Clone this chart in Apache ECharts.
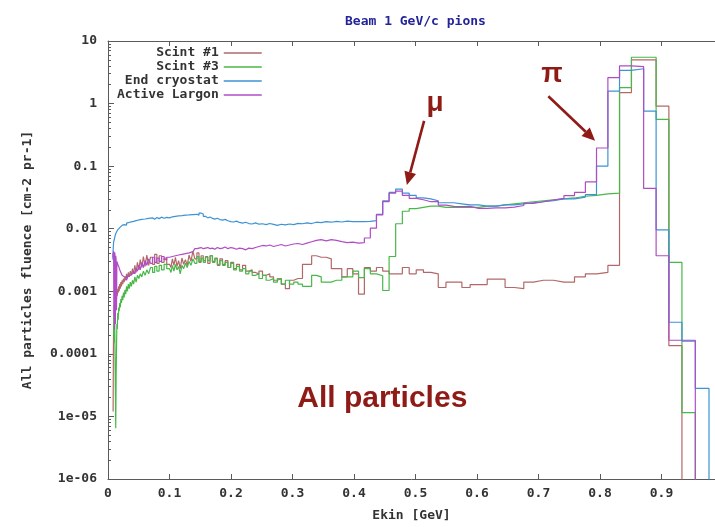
<!DOCTYPE html>
<html>
<head>
<meta charset="utf-8">
<title>Beam 1 GeV/c pions</title>
<script src="https://cdn.jsdelivr.net/npm/echarts@6/dist/echarts.min.js"></script>
<style>
  html, body { margin: 0; padding: 0; background: #fff; }
  #chart { width: 715px; height: 527px; }
</style>
</head>
<body>
<div id="chart"></div>
<script>
// log binning: 50 bins/decade from 10^-2.2 up to 0.1 GeV, 100 bins/decade from 0.1 to 1 GeV
const lowStartExp = -2.2, lowPerDecade = 50, lowCount = 60;
const highStartExp = -1, highPerDecade = 100, highCount = 100;

const seriesNames = ['Scint #1', 'Scint #3', 'End cryostat', 'Active Largon'];
const xTickLabels = ['0', '0.1', '0.2', '0.3', '0.4', '0.5', '0.6', '0.7', '0.8', '0.9'];
const yTickLabels = ['1e-06', '1e-05', '0.0001', '0.001', '0.01', '0.1', '1', '10'];
const xVisibleMax = 0.987; // the picture is cut just before E = 1 GeV

// fluence per bin, null = no entry yet, 0 = empty bin
const scint1Low = [
  null, null, null, null, null, null, 0.000012, 0.00009, 0.0003, 0.0002,
  0.0006, 0.0004, 0.0007, 0.00055, 0.0008, 0.00065, 0.0009, 0.00075, 0.001, 0.00085,
  0.0011, 0.00095, 0.0012, 0.001, 0.0013, 0.0011, 0.0014, 0.0012, 0.0015, 0.0013,
  0.0016, 0.0014, 0.0017, 0.0015, 0.0019, 0.0016, 0.002, 0.0017, 0.0021, 0.0018,
  0.0023, 0.0019, 0.0026, 0.002, 0.0029, 0.0022, 0.0032, 0.0024, 0.0036, 0.0025,
  0.0038, 0.0026, 0.0035, 0.0027, 0.0039, 0.0028, 0.0037, 0.0029, 0.0034, 0.0027
];
const scint1High = [
  0.0029, 0.0024, 0.0033, 0.0026, 0.0035, 0.0025, 0.0031, 0.0023, 0.0034, 0.0027,
  0.0032, 0.0026, 0.0038, 0.003, 0.0044, 0.0033, 0.0041, 0.0029, 0.0037, 0.0031,
  0.0036, 0.0028, 0.0037, 0.003, 0.0034, 0.0026, 0.0033, 0.0027, 0.0031, 0.0024,
  0.0029, 0.0023, 0.0027, 0.0022, 0.0026, 0.0021, 0.0022, 0.002, 0.0019, 0.0021,
  0.0018, 0.0019, 0.0017, 0.0015, 0.0016, 0.0013, 0.0011, 0.0015, 0.0016, 0.0016,
  0.0027, 0.0027, 0.0037, 0.0035, 0.0035, 0.0033, 0.0023, 0.0023, 0.0017, 0.0023,
  0.0019, 0.0009, 0.0024, 0.0021, 0.0024, 0.0021, 0.0019, 0.0019, 0.0024, 0.0019,
  0.0022, 0.002, 0.0019, 0.00115, 0.0014, 0.0014, 0.00115, 0.00128, 0.00128, 0.00157,
  0.00157, 0.00115, 0.0011, 0.0014, 0.0015, 0.0015, 0.0014, 0.0014, 0.0017, 0.0019,
  0.002, 0.0026, 1.5, 5.0, 5.0, 0.91, 0.000135, 0, 0, 0
];

const scint3Low = [
  null, null, null, null, null, null, null, null, 0.0002, 0.0004,
  0.00015, 0.0005, 0.0003, 0.00008, 0.000025, 0.0000065, 0.00004, 0.00012, 0.0003, 0.00025,
  0.00045, 0.00035, 0.00055, 0.00048, 0.00065, 0.00055, 0.00075, 0.00065, 0.00085, 0.00072,
  0.00095, 0.0008, 0.00105, 0.0009, 0.0012, 0.001, 0.0013, 0.0011, 0.0014, 0.0012,
  0.0015, 0.0013, 0.0017, 0.0014, 0.0018, 0.0016, 0.0019, 0.0017, 0.0021, 0.0018,
  0.0022, 0.0019, 0.0024, 0.002, 0.0025, 0.0021, 0.0026, 0.0022, 0.0027, 0.0023
];
const scint3High = [
  0.0024, 0.002, 0.0026, 0.0021, 0.0027, 0.0022, 0.0025, 0.0019, 0.0026, 0.0023,
  0.0028, 0.0024, 0.003, 0.0026, 0.0033, 0.0028, 0.0036, 0.003, 0.0034, 0.0029,
  0.0035, 0.0031, 0.0037, 0.0029, 0.0033, 0.0027, 0.0031, 0.0026, 0.0029, 0.0024,
  0.0028, 0.0022, 0.0025, 0.0021, 0.0023, 0.0019, 0.0021, 0.0018, 0.0019, 0.0016,
  0.0018, 0.0015, 0.0016, 0.0014, 0.0016, 0.0013, 0.0015, 0.0013, 0.0014, 0.0013,
  0.0012, 0.0012, 0.0018, 0.0017, 0.0014, 0.0014, 0.0015, 0.0015, 0.0017, 0.0017,
  0.0021, 0.00165, 0.0023, 0.0019, 0.00177, 0.00103, 0.0036, 0.012, 0.019, 0.021,
  0.022, 0.023, 0.023, 0.022, 0.022, 0.022, 0.022, 0.022, 0.023, 0.023,
  0.024, 0.025, 0.026, 0.027, 0.028, 0.029, 0.03, 0.031, 0.033, 0.034,
  0.036, 0.037, 1.8, 5.5, 5.5, 0.56, 0.0029, 0.0000115, 0, 0
];

const endCryoLow = [
  null, null, null, null, null, 0.0032, 0.0045, 0.0052, 0.0061, 0.0058,
  0.0066, 0.0071, 0.0064, 0.0077, 0.0082, 0.0075, 0.0086, 0.0083, 0.0091, 0.0088,
  0.0096, 0.0092, 0.0101, 0.0097, 0.0104, 0.0099, 0.0109, 0.0105, 0.0113, 0.0108,
  0.0116, 0.0111, 0.0119, 0.0114, 0.0123, 0.0118, 0.0126, 0.0121, 0.0129, 0.0124,
  0.0131, 0.0127, 0.0135, 0.0129, 0.0138, 0.0133, 0.0141, 0.0135, 0.0143, 0.0137,
  0.0146, 0.014, 0.0149, 0.0142, 0.0151, 0.0145, 0.0153, 0.0147, 0.0152, 0.0149
];
const endCryoHigh = [
  0.0148, 0.0155, 0.015, 0.0158, 0.0152, 0.016, 0.0154, 0.0162, 0.0157, 0.0165,
  0.0159, 0.0166, 0.016, 0.0168, 0.0162, 0.017, 0.0164, 0.0178, 0.0172, 0.0158,
  0.0149, 0.0154, 0.0146, 0.0142, 0.0147, 0.014, 0.0137, 0.0141, 0.0134, 0.013,
  0.0128, 0.0132, 0.0126, 0.0123, 0.0127, 0.0121, 0.0119, 0.0124, 0.0118, 0.012,
  0.0116, 0.0121, 0.0117, 0.0113, 0.0118, 0.0115, 0.0119, 0.0116, 0.0122, 0.012,
  0.0124, 0.0121, 0.0127, 0.0125, 0.013, 0.0127, 0.0131, 0.0128, 0.0132, 0.013,
  0.013, 0.013, 0.0131, 0.0135, 0.017, 0.028, 0.038, 0.043, 0.037, 0.034,
  0.031, 0.03, 0.028, 0.026, 0.026, 0.025, 0.024, 0.024, 0.023, 0.023,
  0.024, 0.024, 0.025, 0.026, 0.027, 0.028, 0.03, 0.03, 0.032, 0.035,
  0.1, 1.58, 3.4, 3.6, 0.76, 0.0096, 0.00032, 0.00016, 0.000028, 0
];

const activeLargonLow = [
  null, null, null, null, null, 0.0035, 0.0041, 0.0038, 0.0044, 0.0004,
  0.0039, 0.00025, 0.0042, 0.0035, 0.0003, 0.0037, 0.0032, 0.0005, 0.003, 0.0031,
  0.0027, 0.0029, 0.0025, 0.0026, 0.0022, 0.0023, 0.002, 0.0021, 0.0018, 0.0019,
  0.0017, 0.0018, 0.0016, 0.0017, 0.0015, 0.0017, 0.0016, 0.0018, 0.0017, 0.0019,
  0.0018, 0.0021, 0.0019, 0.0023, 0.0021, 0.0026, 0.0022, 0.0029, 0.0024, 0.0031,
  0.0026, 0.0033, 0.0028, 0.0035, 0.0029, 0.0034, 0.003, 0.0036, 0.0032, 0.0035
];
const activeLargonHigh = [
  0.0033, 0.0036, 0.0034, 0.0037, 0.0035, 0.0038, 0.0036, 0.0039, 0.0038, 0.004,
  0.0039, 0.0041, 0.004, 0.0043, 0.0042, 0.0048, 0.0049, 0.005, 0.0048, 0.0049,
  0.005, 0.0048, 0.0049, 0.0047, 0.005, 0.0048, 0.0049, 0.0051, 0.0048, 0.005,
  0.0049, 0.0047, 0.0049, 0.0048, 0.0046, 0.0049, 0.0048, 0.005, 0.0052, 0.0054,
  0.0053, 0.0055, 0.0052, 0.0054, 0.0056, 0.0053, 0.0055, 0.0057, 0.0058, 0.0056,
  0.0059, 0.0062, 0.0065, 0.0067, 0.0064, 0.0067, 0.0065, 0.0062, 0.006, 0.0061,
  0.0059, 0.006, 0.0071, 0.0102, 0.0166, 0.027, 0.037, 0.04, 0.034, 0.0305,
  0.029, 0.027, 0.027, 0.0239, 0.0228, 0.0225, 0.0228, 0.0212, 0.0212, 0.0215,
  0.0215, 0.0222, 0.0235, 0.0254, 0.027, 0.0288, 0.0305, 0.0337, 0.038, 0.056,
  0.195, 2.6, 4.0, 3.9, 0.044, 0.0037, 0.000165, 0.000165, 0, 0
];

const colors = ['#b26868', '#48b848', '#3d93d3', '#b04cc6'];
const annotColor = '#8e1b16';

// annotation anchors in data coordinates [E, fluence]
const muLabelAt = [0.532, 1.0];
const muArrow = [[0.514, 0.53], [0.486, 0.05]];
const piLabelAt = [0.722, 2.9];
const piArrow = [[0.716, 1.31], [0.792, 0.255]];
const allLabelAt = [0.446, 1.9e-5];

const FLOOR = 1e-9; // empty bins go below the axis and get clipped
const edges = [];
for (let k = 0; k < lowCount; k++) edges.push(Math.pow(10, lowStartExp + k / lowPerDecade));
for (let j = 0; j <= highCount; j++) edges.push(Math.pow(10, highStartExp + j / highPerDecade));

function histo(low, high) {
  const vals = low.concat(high);
  const pts = vals.map((v, i) => [edges[i], v === null ? '-' : (v > 0 ? v : FLOOR)]);
  pts.push([edges[vals.length], pts[pts.length - 1][1]]);
  return pts;
}

const minorTicks = [];
for (let e = -6; e < 1; e++) {
  for (let m = 2; m <= 9; m++) minorTicks.push(e + Math.log10(m));
}

const mono = 'DejaVu Sans Mono';
const axisColor = '#5a5a5a';
const labelStyle = {fontFamily: mono, fontSize: 13, fontWeight: 'bold', color: '#333'};
const xLabel = v => xTickLabels[Math.round(v * 10)] || '';

const chart = echarts.init(document.getElementById('chart'));
chart.setOption({
  animation: false,
  backgroundColor: '#fff',
  textStyle: {fontFamily: mono},
  title: {
    text: 'Beam 1 GeV/c pions',
    left: 340, top: 10,
    textStyle: {fontFamily: mono, fontSize: 13, fontWeight: 'bold', color: '#23239a'}
  },
  legend: {
    orient: 'vertical',
    left: 112, top: 41,
    align: 'right',
    icon: 'rect',
    itemWidth: 38, itemHeight: 1.5,
    itemGap: 0,
    data: seriesNames,
    textStyle: {fontFamily: mono, fontSize: 13, fontWeight: 'bold', color: '#333', lineHeight: 14}
  },
  grid: {left: 108, top: 41, right: 0, bottom: 44},
  xAxis: [
    {
      type: 'value', min: 0, max: xVisibleMax, interval: 0.1,
      name: 'Ekin [GeV]', nameLocation: 'middle', nameGap: 30,
      nameTextStyle: Object.assign({padding: [0, 0, 0, 0]}, labelStyle),
      axisLine: {onZero: false, lineStyle: {color: axisColor}},
      axisTick: {inside: true, length: 5, lineStyle: {color: axisColor}},
      axisLabel: Object.assign({margin: 8, showMaxLabel: false, formatter: xLabel}, labelStyle),
      splitLine: {show: false}
    },
    {
      type: 'value', position: 'top', min: 0, max: xVisibleMax, interval: 0.1,
      axisLine: {onZero: false, lineStyle: {color: axisColor}},
      axisTick: {inside: true, length: 5, lineStyle: {color: axisColor}},
      axisLabel: {show: false},
      splitLine: {show: false}
    }
  ],
  yAxis: [
    {
      type: 'log', logBase: 10, min: 1e-6, max: 10, interval: 1,
      name: 'All particles fluence [cm-2 pr-1]', nameLocation: 'middle', nameGap: 74,
      nameTextStyle: labelStyle,
      axisLine: {lineStyle: {color: axisColor}},
      axisTick: {inside: true, length: 6, lineStyle: {color: axisColor}},
      axisLabel: Object.assign({margin: 11, formatter: v => yTickLabels[Math.round(Math.log10(v)) + 6]}, labelStyle),
      splitLine: {show: false}
    },
    {
      type: 'value', min: -6, max: 1, position: 'left',
      axisLine: {show: false},
      axisTick: {show: true, inside: true, length: 3, customValues: minorTicks, lineStyle: {color: axisColor}},
      axisLabel: {show: false},
      splitLine: {show: false}
    }
  ],
  series: [
    [scint1Low, scint1High],
    [scint3Low, scint3High],
    [endCryoLow, endCryoHigh],
    [activeLargonLow, activeLargonHigh]
  ].map((d, i) => ({
    name: seriesNames[i],
    type: 'line',
    step: 'end',
    symbol: 'none',
    clip: true,
    xAxisIndex: 0, yAxisIndex: 0,
    color: colors[i],
    lineStyle: {width: 1.2, color: colors[i]},
    data: histo(d[0], d[1])
  }))
});

function px(p) { return chart.convertToPixel({xAxisIndex: 0, yAxisIndex: 0}, p); }

function arrow(from, to) {
  const a = px(from), b = px(to);
  const ang = Math.atan2(b[1] - a[1], b[0] - a[0]);
  const len = 13, half = 6;
  const base = [b[0] - len * Math.cos(ang), b[1] - len * Math.sin(ang)];
  const nx = -Math.sin(ang), ny = Math.cos(ang);
  return [
    {type: 'line', shape: {x1: a[0], y1: a[1], x2: base[0], y2: base[1]},
     style: {stroke: annotColor, lineWidth: 2.6}},
    {type: 'polygon',
     shape: {points: [b, [base[0] + half * nx, base[1] + half * ny], [base[0] - half * nx, base[1] - half * ny]]},
     style: {fill: annotColor}}
  ];
}

function label(text, at, size) {
  const p = px(at);
  return {
    type: 'text', x: p[0], y: p[1],
    style: {text: text, fill: annotColor, font: 'bold ' + size + 'px "Liberation Sans", Arial, sans-serif',
            align: 'center', verticalAlign: 'middle'}
  };
}

chart.setOption({
  graphic: [
    label('μ', muLabelAt, 28),
    label('π', piLabelAt, 28),
    label('All particles', allLabelAt, 30)
  ].concat(arrow(muArrow[0], muArrow[1]), arrow(piArrow[0], piArrow[1]))
});
</script>
</body>
</html>
